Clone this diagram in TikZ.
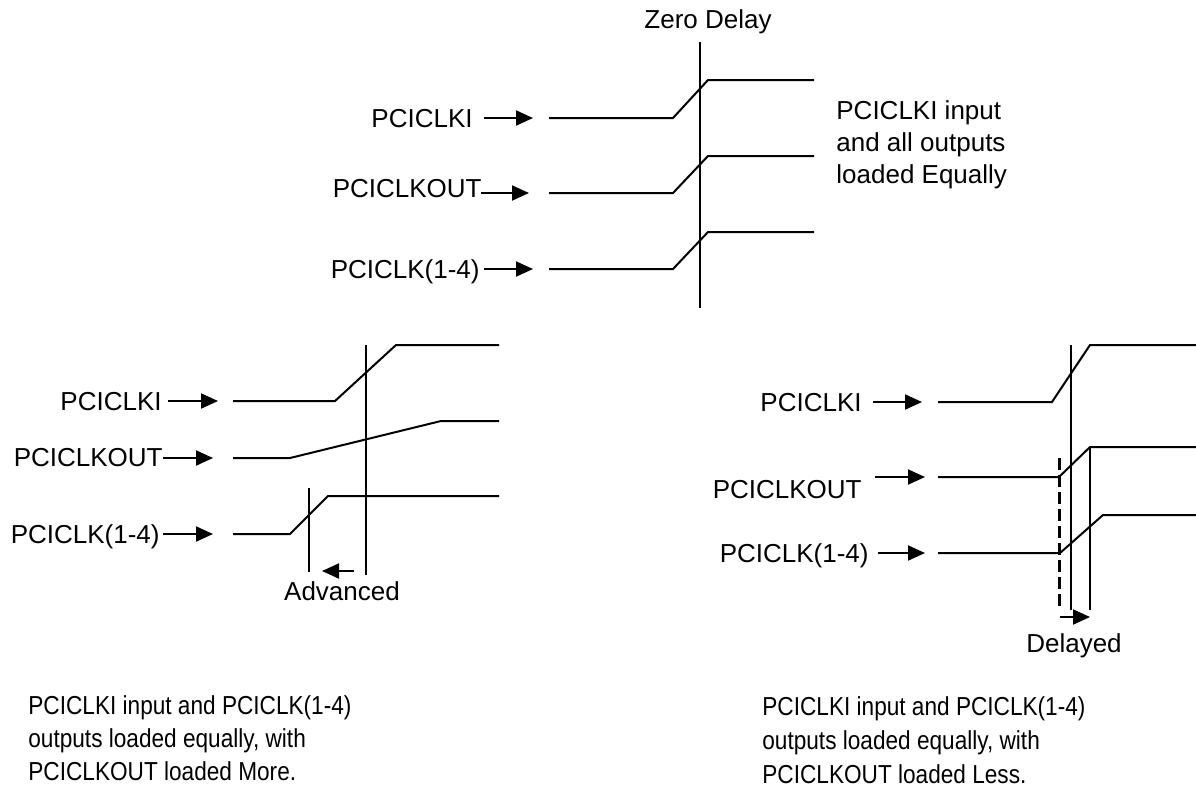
\documentclass[tikz,border=0pt]{standalone}
\usepackage{fontspec}
\setmainfont{Liberation Sans}
\newfontfamily\notefont{Liberation Sans}[FakeStretch=0.87]
\usetikzlibrary{arrows.meta}
\tikzset{
  lbl/.style={font=\fontsize{13}{15}\selectfont, inner sep=0pt, text height=9.3pt, text depth=0pt},
  note/.style={font=\notefont\fontsize{13}{16.5}\selectfont, inner sep=0pt, align=left},
  into/.style={-{Triangle[length=8.5pt,width=7.5pt]}, line width=1pt},
  wave/.style={line width=1pt},
  mark line/.style={line width=1pt},
}
% one clock edge: low start x, low y, knee x, top x, high y, end x
\newcommand\clkedge[6]{
  \draw[wave] (#1,#2) -- (#3,#2) -- (#4,#5) -- (#6,#5);
}

\begin{document}
\begin{tikzpicture}[x=0.5pt, y=-0.5pt]
\useasboundingbox (0,0) rectangle (1196,789);

% zero delay
\node[lbl] (zero) at (708,19) {Zero Delay};
\draw[mark line] (700,42) -- (700,308);
\node[lbl,left] (aki) at (473,118) {PCICLKI};
\node[lbl,left] (aout) at (482,188) {PCICLKOUT};
\node[lbl,left] (aclk) at (480,269) {PCICLK(1-4)};
\coordinate (akiin) at (533,118);
\coordinate (aoutin) at (529,193);
\coordinate (aclkin) at (533,269);
\draw[into] ([xshift=5.5pt]aki.east) -- (akiin);
\draw[into] (481,193) -- (aoutin);
\draw[into] ([xshift=2pt]aclk.east) -- (aclkin);
\clkedge{549}{118}{673}{708}{80}{814}
\clkedge{549}{193}{673}{708}{156}{814}
\clkedge{549}{269}{673}{708}{232}{814}
\node[lbl,anchor=base west,align=left,text height=,font=\fontsize{13}{16}\selectfont] (anote) at (836,183)
  {PCICLKI input\\and all outputs\\loaded Equally};

% advanced
\draw[mark line] (366,345) -- (366,575);
\draw[mark line] (309,488) -- (309,572);
\node[lbl,left] (bki) at (162,401) {PCICLKI};
\node[lbl,left] (bout) at (163,457) {PCICLKOUT};
\node[lbl,left] (bclk) at (160,534) {PCICLK(1-4)};
\coordinate (bkiin) at (218,401);
\coordinate (boutin) at (213,458);
\coordinate (bclkin) at (213,534);
\draw[into] ([xshift=3pt]bki.east) -- (bkiin);
\draw[into] (163,458) -- (boutin);
\draw[into] ([xshift=1.5pt]bclk.east) -- (bclkin);
\clkedge{233}{401}{335}{396}{345}{499}
\clkedge{233}{458}{290}{441}{421}{499}
\clkedge{233}{534}{290}{328}{496}{499}
\coordinate (advfrom) at (354,571);
\coordinate (advto) at (322,571);
\draw[into] (advfrom) -- (advto);
\node[lbl] (adv) at (342,591) {Advanced};
\node[note,anchor=base west] (bnote) at (28,780)
  {PCICLKI input and PCICLK(1-4)\\outputs loaded equally, with\\PCICLKOUT loaded More.};

% delayed
\draw[mark line] (1071,345) -- (1071,610);
\draw[mark line, line width=1.5pt, dash pattern=on 6pt off 2.5pt] (1059,458) -- (1059,608);
\draw[mark line] (1090,447) -- (1090,610);
\node[lbl,left] (cki) at (862,402) {PCICLKI};
\node[lbl,left] (cout) at (862,489) {PCICLKOUT};
\node[lbl,left] (cclk) at (869,553) {PCICLK(1-4)};
\coordinate (ckiin) at (922,402);
\coordinate (coutin) at (925,477);
\coordinate (cclkin) at (925,553);
\draw[into] ([xshift=5.5pt]cki.east) -- (ckiin);
\draw[into] (875,477) -- (coutin);
\draw[into] ([xshift=4.5pt]cclk.east) -- (cclkin);
\clkedge{938}{402}{1052}{1090}{345}{1196}
\clkedge{938}{477}{1059}{1090}{447}{1196}
\clkedge{938}{553}{1060}{1103}{515}{1196}
\coordinate (delfrom) at (1060,617);
\coordinate (delto) at (1090,617);
\draw[into] (delfrom) -- (delto);
\node[lbl] (del) at (1074,643) {Delayed};
\node[note,anchor=base west,font=\notefont\fontsize{13}{17}\selectfont] (cnote) at (762,783)
  {PCICLKI input and PCICLK(1-4)\\outputs loaded equally, with\\PCICLKOUT loaded Less.};
\end{tikzpicture}
\end{document}
